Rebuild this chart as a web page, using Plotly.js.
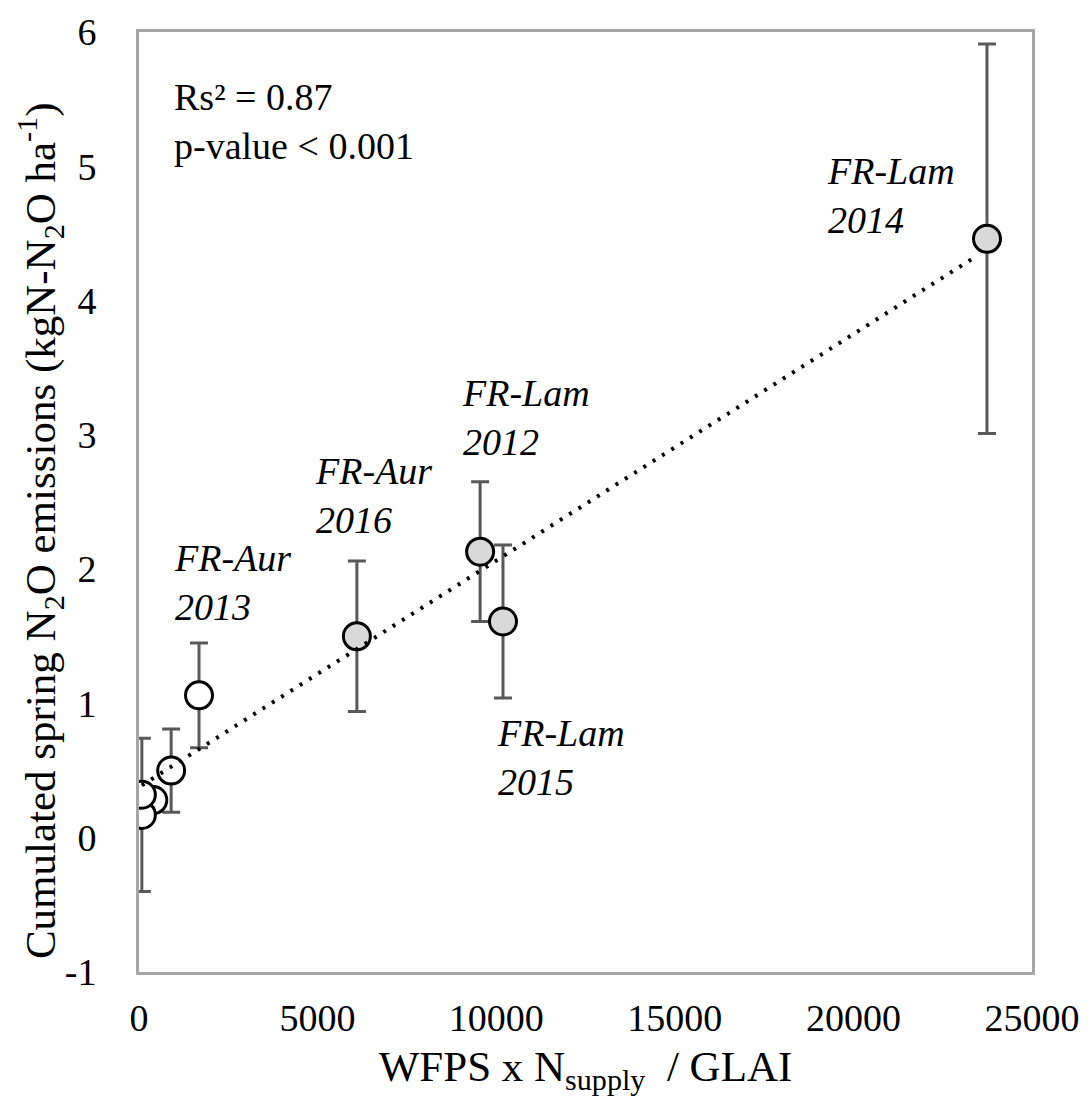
<!DOCTYPE html>
<html>
<head>
<meta charset="utf-8">
<script src="https://cdn.plot.ly/plotly-3.0.1.min.js"></script>
<style>
html,body{margin:0;padding:0;background:#fff;}
#chart{width:1088px;height:1110px;}
</style>
</head>
<body>
<div id="chart"></div>
<script>
// Open circles (white fill)
const openX = [400, 80, 80, 900, 1680];
const openY = [0.28, 0.17, 0.32, 0.50, 1.06];
const openErr = [0.06, 0.57, 0.06, 0.31, 0.39];

// Grey circles: FR-Aur 2016, FR-Lam 2012, FR-Lam 2015, FR-Lam 2014
const greyX = [6100, 9550, 10190, 23740];
const greyY = [1.50, 2.13, 1.61, 4.46];
const greyErr = [0.56, 0.52, 0.57, 1.45];

// Dotted trend line end points
const trendX = [80, 23380];
const trendY = [0.39, 4.32];

// Site-year labels
const labelText = ["FR-Lam<br>2014", "FR-Lam<br>2012", "FR-Aur<br>2016", "FR-Aur<br>2013", "FR-Lam<br>2015"];
const labelX = [19205, 8986, 4871, 924, 9966];
const labelY = [4.785, 3.13, 2.55, 1.90, 0.595];

const xTicks = [0, 5000, 10000, 15000, 20000, 25000];
const yTicks = [-1, 0, 1, 2, 3, 4, 5, 6];

const FONT = "'Liberation Serif', 'Times New Roman', serif";

const errStyle = {type: 'data', visible: true, color: '#595959', thickness: 3, width: 9};

const traces = [
  {
    x: openX, y: openY, type: 'scatter', mode: 'markers',
    marker: {size: 27, color: '#ffffff', line: {color: '#000000', width: 3}},
    error_y: Object.assign({array: openErr}, errStyle),
    showlegend: false, hoverinfo: 'skip'
  },
  {
    x: greyX, y: greyY, type: 'scatter', mode: 'markers',
    marker: {size: 27, color: '#d9d9d9', line: {color: '#000000', width: 3}},
    error_y: Object.assign({array: greyErr}, errStyle),
    showlegend: false, hoverinfo: 'skip'
  },
  {
    x: trendX, y: trendY, type: 'scatter', mode: 'lines',
    line: {color: '#000000', width: 4, dash: '3px,8px'},
    showlegend: false, hoverinfo: 'skip'
  }
];

const annotations = labelText.map((t, i) => ({
  x: labelX[i], y: labelY[i], xref: 'x', yref: 'y',
  text: '<i>' + t + '</i>', showarrow: false,
  xanchor: 'left', yanchor: 'middle', align: 'left',
  font: {family: FONT, size: 38, color: '#000000'}
}));
annotations.push({
  x: 0.037, y: 0.955, xref: 'paper', yref: 'paper',
  text: 'Rs² = 0.87<br>p-value &lt; 0.001', showarrow: false,
  xanchor: 'left', yanchor: 'top', align: 'left',
  font: {family: FONT, size: 38, color: '#000000'}
});
// y-axis title, placed as in the reference (slightly below plot centre)
annotations.push({
  x: -0.111, y: 0.47, xref: 'paper', yref: 'paper',
  text: 'Cumulated spring N<sub>2</sub>O emissions (kgN-N<sub>2</sub>O ha<sup>-1</sup>)',
  textangle: -90, showarrow: false, xanchor: 'center', yanchor: 'middle',
  font: {family: FONT, size: 43, color: '#000000'}
});

const layout = {
  width: 1088, height: 1110,
  margin: {l: 139, r: 56, t: 32, b: 138},
  paper_bgcolor: '#ffffff', plot_bgcolor: '#ffffff',
  font: {family: FONT, color: '#000000', size: 38},
  xaxis: {
    range: [0, 25000], tickvals: xTicks, ticktext: xTicks.map(String),
    showgrid: false, zeroline: false,
    showline: true, mirror: true, linecolor: '#a6a6a6', linewidth: 3,
    ticks: '', ticklabelstandoff: 10,
    tickfont: {family: FONT, size: 38},
    title: {text: 'WFPS x N<sub>supply</sub>  / GLAI', font: {family: FONT, size: 43}, standoff: 14}
  },
  yaxis: {
    range: [-1, 6], tickvals: yTicks, ticktext: yTicks.map(String),
    showgrid: false, zeroline: false,
    showline: true, mirror: true, linecolor: '#a6a6a6', linewidth: 3,
    ticks: '', ticklabelstandoff: 32,
    tickfont: {family: FONT, size: 38}
  },
  annotations: annotations,
  showlegend: false
};

Plotly.newPlot('chart', traces, layout, {displayModeBar: false, staticPlot: true});
</script>
</body>
</html>
